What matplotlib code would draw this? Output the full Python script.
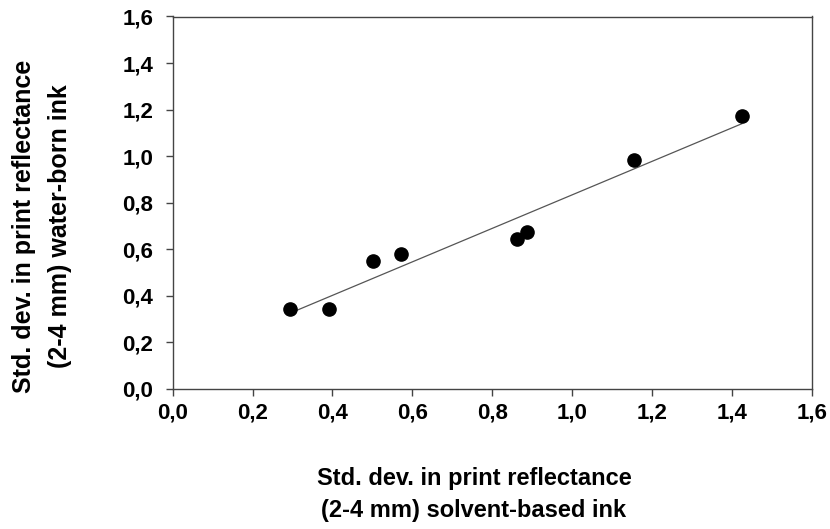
import numpy as np
import matplotlib
matplotlib.use("Agg")
import matplotlib.pyplot as plt

plt.rcParams['font.family'] = ['Liberation Sans', 'DejaVu Sans']

solvent = [0.293, 0.391, 0.502, 0.572, 0.863, 0.886, 1.155, 1.425]
water = [0.342, 0.342, 0.550, 0.580, 0.645, 0.672, 0.985, 1.172]
ticks = [0.0, 0.2, 0.4, 0.6, 0.8, 1.0, 1.2, 1.4, 1.6]
tick_labels = ["0,0", "0,2", "0,4", "0,6", "0,8", "1,0", "1,2", "1,4", "1,6"]
xlabel = "Std. dev. in print reflectance\n(2-4 mm) solvent-based ink"
ylabel = "Std. dev. in print reflectance\n(2-4 mm) water-born ink"

fig = plt.figure(figsize=(8.3, 5.29), dpi=100)
ax = fig.add_axes([172.7/830, 1-388.7/529, (811.7-172.7)/830, (388.7-16.5)/529])

x = np.array(solvent)
y = np.array(water)
slope, icpt = np.polyfit(x, y, 1)
xs = np.array([x.min(), x.max()])
ax.plot(xs, slope*xs + icpt, color='#555555', lw=0.9, zorder=2)
ax.plot(x, y, 'o', color='black', markersize=9.5, zorder=3)

ax.set_xlim(0, 1.6)
ax.set_ylim(0, 1.6)
ax.set_xticks(ticks)
ax.set_yticks(ticks)
ax.set_xticklabels(tick_labels, fontsize=16, fontweight='bold')
ax.set_yticklabels(tick_labels, fontsize=16, fontweight='bold')
for s in ax.spines.values():
    s.set_color('#444444')
    s.set_linewidth(1.0)
ax.tick_params(axis='both', direction='out', length=5, width=1.0, color='#444444')
ax.tick_params(axis='x', pad=5)
ax.tick_params(axis='y', pad=9)

fig.text(474/830, 1-495/529, xlabel, ha='center', va='center', fontsize=17,
         fontweight='bold', linespacing=1.5)
fig.text(42/830, 1-226/529, ylabel, ha='center', va='center', fontsize=18,
         fontweight='bold', rotation=90, linespacing=1.65)

fig.savefig('out.png', dpi=100)
